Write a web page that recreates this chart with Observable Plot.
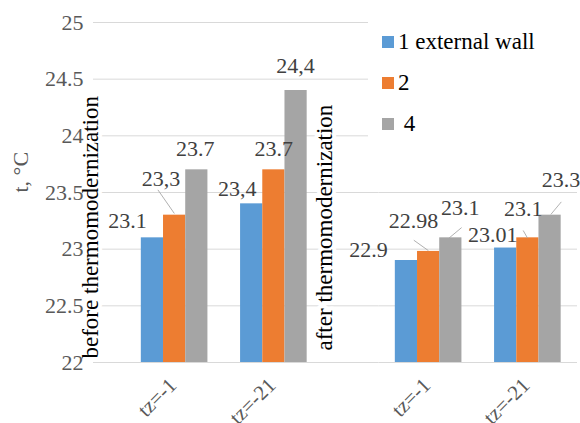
<!DOCTYPE html>
<html><head><meta charset="utf-8">
<script src="https://cdn.jsdelivr.net/npm/d3@7"></script>
<script src="https://cdn.jsdelivr.net/npm/@observablehq/plot@0.6"></script>
<style>
body{margin:0;background:#fff;}
#wrap{position:relative;width:580px;height:423px;overflow:hidden;font-family:"Liberation Serif","DejaVu Serif","Noto Serif",Tinos,Times,serif;}
#legend{position:absolute;left:368px;top:14px;width:212px;height:146px;background:#fff;}
.item{position:absolute;left:14px;height:24px;display:flex;align-items:center;font-size:23px;color:#000;white-space:nowrap;}
.sw{width:12px;height:12px;margin-right:4px;flex:none;}
</style></head><body><div id="wrap"><div id="chart"></div><div id="legend"></div></div>
<script>
// ---- data ----
const periodKeys = ["before", "after"];
const periodLabels = ["before thermomodernization", "after thermomodernization"];
const tzCategories = ["tz=-1", "tz=-21"];
const groupPeriod = ["before", "before", "after", "after"];
const groupTz = ["tz=-1", "tz=-21", "tz=-1", "tz=-21"];
const seriesNames = ["1 external wall", "2", "4"];
const seriesColors = ["#5B9BD5", "#ED7D31", "#A5A5A5"];
const values1 = [23.1, 23.4, 22.9, 23.01];
const values2 = [23.3, 23.7, 22.98, 23.1];
const values4 = [23.7, 24.4, 23.1, 23.3];
const labels1 = ["23.1", "23,4", "22.9", "23.01"];
const labels2 = ["23,3", "23.7", "22.98", "23.1"];
const labels4 = ["23.7", "24,4", "23.1", "23.3"];
const yTicks = [22, 22.5, 23, 23.5, 24, 24.5, 25];
const yTickLabels = ["22", "22.5", "23", "23.5", "24", "24.5", "25"];
const yAxisLabel = "t, °C";
const yMin = 22, yMax = 25;

// ---- layout / annotation offsets (pixels) ----
const labelOffsets = [
  [[-25, -17], [-14.5, -15], [-38, -11], [-13, -13]],
  [[-13.5, -36], [0, -21], [-15, -30], [-4.5, -29]],
  [[-1.5, -21], [-0.5, -25], [9.5, -30], [11, -35]]
];
// leader lines: [series, group, startX, startY, endX, endY] relative to bar top centre
const leaders = [
  [1, 0, -0.5, -2, -16.5, -25],
  [1, 2, -0.5, -1, -14.5, -11],
  [2, 2, -1.5, 0, 10.5, -10],
  [1, 3, -0.5, 0, -4.5, -7],
  [2, 3, 1, -1, 11, -13]
];

const seriesValues = [values1, values2, values4];
const seriesLabels = [labels1, labels2, labels4];
const rows = [];
seriesNames.forEach((s, i) => groupTz.forEach((tz, g) => rows.push({
  series: s, si: i, g, period: groupPeriod[g], tz, value: seriesValues[i][g], label: seriesLabels[i][g]
})));
const groups = groupTz.map((tz, g) => ({period: groupPeriod[g], tz}));

const fontFamily = '"Liberation Serif","DejaVu Serif","Noto Serif",Tinos,Times,serif';
const bandW = 99.25, barW = 22.2, pad = (bandW - 3 * barW) / 2;
const inFirst = () => periodKeys[0];
const inSecond = () => periodKeys[1];

const marks = [];
marks.push(Plot.ruleY(yTicks, {fx: inFirst, y: d => d, stroke: "#d9d9d9", strokeWidth: 1, insetLeft: -31.5, insetRight: -55.5}));
marks.push(Plot.ruleY(yTicks, {fx: inSecond, y: d => d, stroke: "#d9d9d9", strokeWidth: 1}));
seriesNames.forEach((s, i) => {
  marks.push(Plot.barY(rows.filter(r => r.si === i), {
    fx: "period", x: "tz", y1: d => yMin, y2: "value", fill: seriesColors[i],
    insetLeft: pad + i * barW, insetRight: pad + (2 - i) * barW
  }));
});
rows.forEach(r => {
  const [ox, oy] = labelOffsets[r.si][r.g];
  marks.push(Plot.text([r], {
    fx: "period", x: "tz", y: "value", text: "label",
    dx: (r.si - 1) * barW + ox, dy: oy,
    fill: "#404040", fontSize: 22, fontFamily
  }));
});
leaders.forEach(([si, g, x1, y1, x2, y2]) => {
  const r = rows.find(d => d.si === si && d.g === g);
  const vx = x2 - x1, vy = y2 - y1;
  marks.push(Plot.vector([r], {
    fx: "period", x: "tz", y: "value",
    dx: (si - 1) * barW + x1, dy: y1,
    length: Math.hypot(vx, vy), rotate: Math.atan2(vx, -vy) * 180 / Math.PI,
    anchor: "start", stroke: "#a6a6a6", strokeWidth: 0.8,
    shape: {draw(ctx, l) { ctx.moveTo(0, 0); ctx.lineTo(0, -l); }}
  }));
});
marks.push(Plot.text([periodLabels[0]], {
  fx: inFirst, text: d => d, frameAnchor: "bottom-left", rotate: -90, textAnchor: "start",
  dx: -27, dy: -4, fill: "#000", fontSize: 23, fontFamily,
  stroke: "white", strokeWidth: 8, paintOrder: "stroke"
}));
marks.push(Plot.text([periodLabels[1]], {
  fx: inSecond, text: d => d, frameAnchor: "bottom-left", rotate: -90, textAnchor: "start",
  dx: -46.5, dy: -12, fill: "#000", fontSize: 23, fontFamily,
  stroke: "white", strokeWidth: 8, paintOrder: "stroke"
}));
marks.push(Plot.text(yTicks, {
  fx: inFirst, y: d => d, text: (d, i) => yTickLabels[i], frameAnchor: "left",
  textAnchor: "end", dx: -41.5, fill: "#595959", fontSize: 22, fontFamily
}));
marks.push(Plot.text([yAxisLabel], {
  fx: inFirst, text: d => d, frameAnchor: "left", rotate: -90, dx: -104,
  fill: "#595959", fontSize: 22, fontFamily
}));
marks.push(Plot.text(groups, {
  fx: "period", x: "tz", text: "tz", frameAnchor: "bottom", rotate: -45, textAnchor: "end",
  dx: 3, dy: 24, fill: "#595959", fontSize: 21, fontFamily
}));

const chart = Plot.plot({
  width: 580, height: 423,
  marginLeft: 93, marginRight: 3, marginTop: 22, marginBottom: 61,
  style: {fontFamily, background: "white", overflow: "visible"},
  fx: {domain: periodKeys, paddingInner: 0.2185, paddingOuter: 0.062, align: 1, round: false, axis: null, label: null},
  x: {domain: tzCategories, padding: 0, round: false, axis: null, label: null},
  y: {domain: [yMin, yMax], axis: null},
  marks
});
document.getElementById("chart").appendChild(chart);

// legend
const legend = document.getElementById("legend");
const legendTops = [16, 57, 98];
seriesNames.forEach((s, i) => {
  const item = document.createElement("div");
  item.className = "item";
  item.style.top = legendTops[i] + "px";
  const sw = document.createElement("span");
  sw.className = "sw";
  sw.style.background = seriesColors[i];
  const t = document.createElement("span");
  t.textContent = i === 2 ? "\u00a0" + s : s;
  item.appendChild(sw); item.appendChild(t);
  legend.appendChild(item);
});
</script></body></html>
